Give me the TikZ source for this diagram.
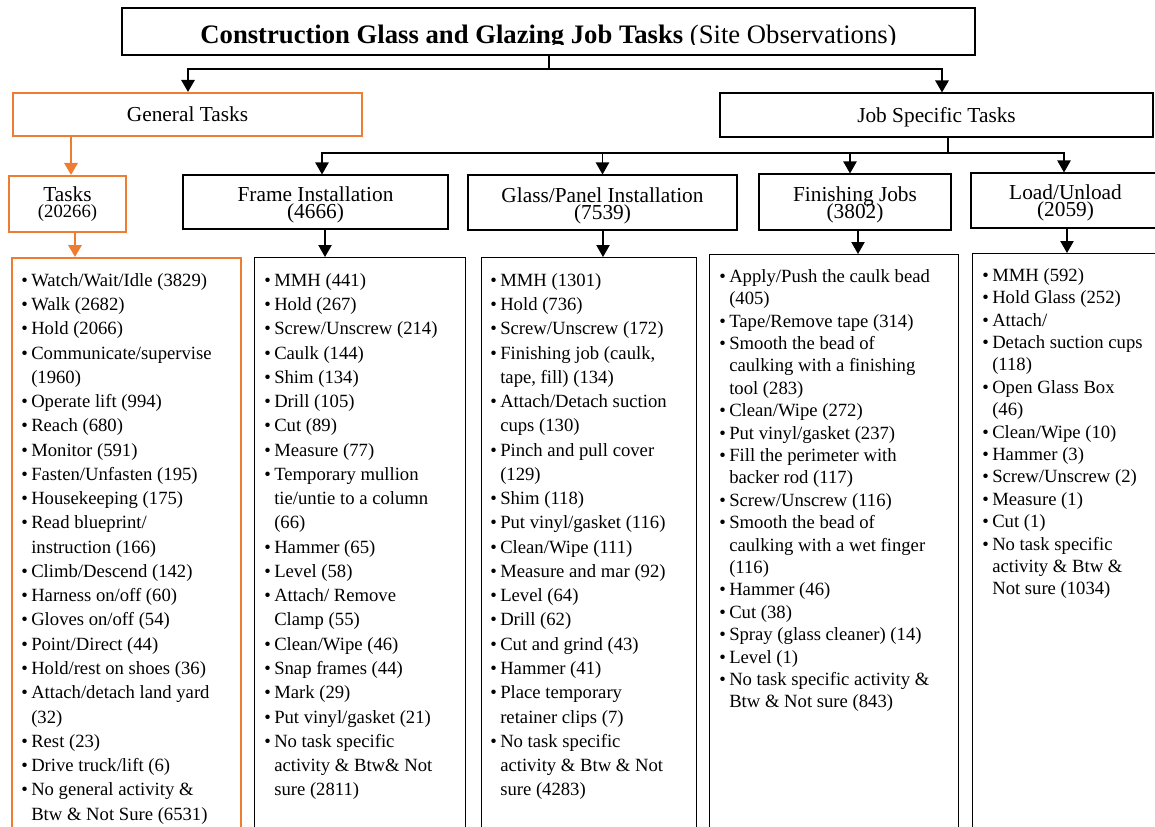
\documentclass[tikz,border=0pt]{standalone}
\usepackage{fontspec}
\setmainfont{Liberation Serif}
\usetikzlibrary{arrows.meta}
\definecolor{orangeline}{HTML}{ED7D31}
\newcommand{\itm}{\makebox[7.5pt][l]{\textbullet}}
\newcommand{\nxt}{\hspace*{7.5pt}}
\newcommand{\twoline}[3][0pt]{\raisebox{#1}[0pt][0pt]{\makebox[0pt]{\parbox[t]{6cm}{\lineskiplimit=-20pt\centering #2\\#3}}}}
\begin{document}
\begin{tikzpicture}
                        [x=0.75pt, y=-0.75pt,
                        box/.style={draw, line width=0.8pt, inner sep=0pt, align=center},
                        obox/.style={box, draw=orangeline, line width=1.6pt},
                        head/.style={text depth=0pt, font=\fontsize{16}{19}\selectfont},
                        cat/.style={box, font=\fontsize{16}{12.75}\selectfont},
                        lst/.style={anchor=north west, inner sep=0pt, align=left, font=\fontsize{14}{18.2}\selectfont},
                        slst/.style={lst, font=\fontsize{14}{16.8}\selectfont},
                        arr/.style={line width=0.9pt, -{Triangle[width=10pt,length=9pt]}},
                        oarr/.style={arr, draw=orangeline, line width=1.6pt}]
                        \useasboundingbox (0,0) rectangle (1155,827);
                        %Titel
                        \node [box, minimum width=639.75pt, minimum height=35.25pt] (title) at (548.5,31.5) {};
                        \begin{scope}
                        \clip (title.north west) rectangle ([yshift=8.25pt]title.south east);
                        \node [anchor=base, font=\fontsize{20}{24}\selectfont] (titletext) at (548.5,43.5) {\textbf{Construction Glass and Glazing Job Tasks} (Site Observations)};
                        \end{scope}
                        %Hauptzweige
                        \node [obox, head, minimum width=261.75pt, minimum height=32.25pt] (gen) at (187.5,114.5) {General Tasks};
                        \node [box, head, minimum width=324.75pt, minimum height=33pt] (spec) at (936.5,115) {Job Specific Tasks};
                        \coordinate (split) at (549,69);
                        \draw [line width=1.5pt] (title.south -| split) -- (split);
                        \draw [arr, line width=1.5pt] (split) -| (gen.north -| 188,0);
                        \draw [arr, line width=1.5pt] (split) -| (spec.north -| 942,0);
                        %Kategorien
                        \node [obox, minimum width=87.75pt, minimum height=42pt, font=\fontsize{16}{12}\selectfont] (tasks) at (67.5,204) {\twoline[1.5pt]{Tasks}{\fontsize{14}{12}\selectfont(20266)}};
                        \node [cat, minimum width=198.75pt, minimum height=40.5pt] (frame) at (315.5,202) {\twoline{Frame Installation}{(4666)}};
                        \node [cat, minimum width=201.75pt, minimum height=41.25pt] (glass) at (602.5,202.5) {\twoline{Glass/Panel Installation}{(7539)}};
                        \node [cat, minimum width=144pt, minimum height=42pt] (finish) at (855,202) {\twoline{Finishing Jobs}{(3802)}};
                        \node [cat, minimum width=141.75pt, minimum height=41.25pt] (load) at (1065.5,200.5) {\twoline[0.75pt]{Load/Unload}{(2059)}};
                        \coordinate (jsplit) at (948,153);
                        \draw [line width=0.9pt] (spec.south -| jsplit) -- (jsplit);
                        \draw [arr] (jsplit) -| (frame.north -| 322,0);
                        \draw [arr] (jsplit) -| (glass.north);
                        \draw [arr] (jsplit) -| (finish.north -| 850,0);
                        \draw [arr] (jsplit) -| (load.north -| 1064,0);
                        \draw [oarr] (gen.south -| 71,0) -- (tasks.north -| 71,0);
                        %Listen
                        \node [obox, anchor=north west, minimum width=171.75pt, minimum height=437.25pt] (genlist) at (11,257) {};
                        \node [box, anchor=north west, minimum width=158.25pt, minimum height=437.25pt] (framelist) at (254,257) {};
                        \node [box, anchor=north west, minimum width=161.25pt, minimum height=437.25pt] (glasslist) at (481,257) {};
                        \node [box, anchor=north west, minimum width=186.75pt, minimum height=437.25pt] (finlist) at (709,254) {};
                        \node [box, anchor=north west, minimum width=144.75pt, minimum height=437.25pt] (loadlist) at (972,253) {};
                        \draw [oarr] (tasks.south -| 75,0) -- (genlist.north -| 75,0);
                        \draw [arr] (frame.south -| 325,0) -- (framelist.north -| 325,0);
                        \draw [arr] (glass.south -| 603,0) -- (glasslist.north -| 603,0);
                        \draw [arr] (finish.south -| 858,0) -- (finlist.north -| 858,0);
                        \draw [arr] (load.south -| 1067,0) -- (loadlist.north -| 1067,0);
                        \node [lst] (gentext) at (21,273) {\itm Watch/Wait/Idle (3829)\\ \itm Walk (2682)\\ \itm Hold (2066)\\ \itm Communicate/supervise\\ \nxt (1960)\\ \itm Operate lift (994)\\ \itm Reach (680)\\ \itm Monitor (591)\\ \itm Fasten/Unfasten (195)\\ \itm Housekeeping (175)\\ \itm Read blueprint/\\ \nxt instruction (166)\\ \itm Climb/Descend (142)\\ \itm Harness on/off (60)\\ \itm Gloves on/off (54)\\ \itm Point/Direct (44)\\ \itm Hold/rest on shoes (36)\\ \itm Attach/detach land yard\\ \nxt (32)\\ \itm Rest (23)\\ \itm Drive truck/lift (6)\\ \itm No general activity \&\\ \nxt Btw \& Not Sure (6531)};
                        \node [lst] (frametext) at (264,273) {\itm MMH (441)\\ \itm Hold (267)\\ \itm Screw/Unscrew (214)\\ \itm Caulk (144)\\ \itm Shim (134)\\ \itm Drill (105)\\ \itm Cut (89)\\ \itm Measure (77)\\ \itm Temporary mullion\\ \nxt tie/untie to a column\\ \nxt (66)\\ \itm Hammer (65)\\ \itm Level (58)\\ \itm Attach/ Remove\\ \nxt Clamp (55)\\ \itm Clean/Wipe (46)\\ \itm Snap frames (44)\\ \itm Mark (29)\\ \itm Put vinyl/gasket (21)\\ \itm No task specific\\ \nxt activity \& Btw\& Not\\ \nxt sure (2811)};
                        \node [lst] (glasstext) at (490,273) {\itm MMH (1301)\\ \itm Hold (736)\\ \itm Screw/Unscrew (172)\\ \itm Finishing job (caulk,\\ \nxt tape, fill) (134)\\ \itm Attach/Detach suction\\ \nxt cups (130)\\ \itm Pinch and pull cover\\ \nxt (129)\\ \itm Shim (118)\\ \itm Put vinyl/gasket (116)\\ \itm Clean/Wipe (111)\\ \itm Measure and mar (92)\\ \itm Level (64)\\ \itm Drill (62)\\ \itm Cut and grind (43)\\ \itm Hammer (41)\\ \itm Place temporary\\ \nxt retainer clips (7)\\ \itm No task specific\\ \nxt activity \& Btw \& Not\\ \nxt sure (4283)};
                        \node [slst] (fintext) at (719,269) {\itm Apply/Push the caulk bead\\ \nxt (405)\\ \itm Tape/Remove tape (314)\\ \itm Smooth the bead of\\ \nxt caulking with a finishing\\ \nxt tool (283)\\ \itm Clean/Wipe (272)\\ \itm Put vinyl/gasket (237)\\ \itm Fill the perimeter with\\ \nxt backer rod (117)\\ \itm Screw/Unscrew (116)\\ \itm Smooth the bead of\\ \nxt caulking with a wet finger\\ \nxt (116)\\ \itm Hammer (46)\\ \itm Cut (38)\\ \itm Spray (glass cleaner) (14)\\ \itm Level (1)\\ \itm No task specific activity \&\\ \nxt Btw \& Not sure (843)};
                        \node [slst] (loadtext) at (982,268) {\itm MMH (592)\\ \itm Hold Glass (252)\\ \itm Attach/\\ \itm Detach suction cups\\ \nxt (118)\\ \itm Open Glass Box\\ \nxt (46)\\ \itm Clean/Wipe (10)\\ \itm Hammer (3)\\ \itm Screw/Unscrew (2)\\ \itm Measure (1)\\ \itm Cut (1)\\ \itm No task specific\\ \nxt activity \& Btw \&\\ \nxt Not sure (1034)};
                \end{tikzpicture}
\end{document}
